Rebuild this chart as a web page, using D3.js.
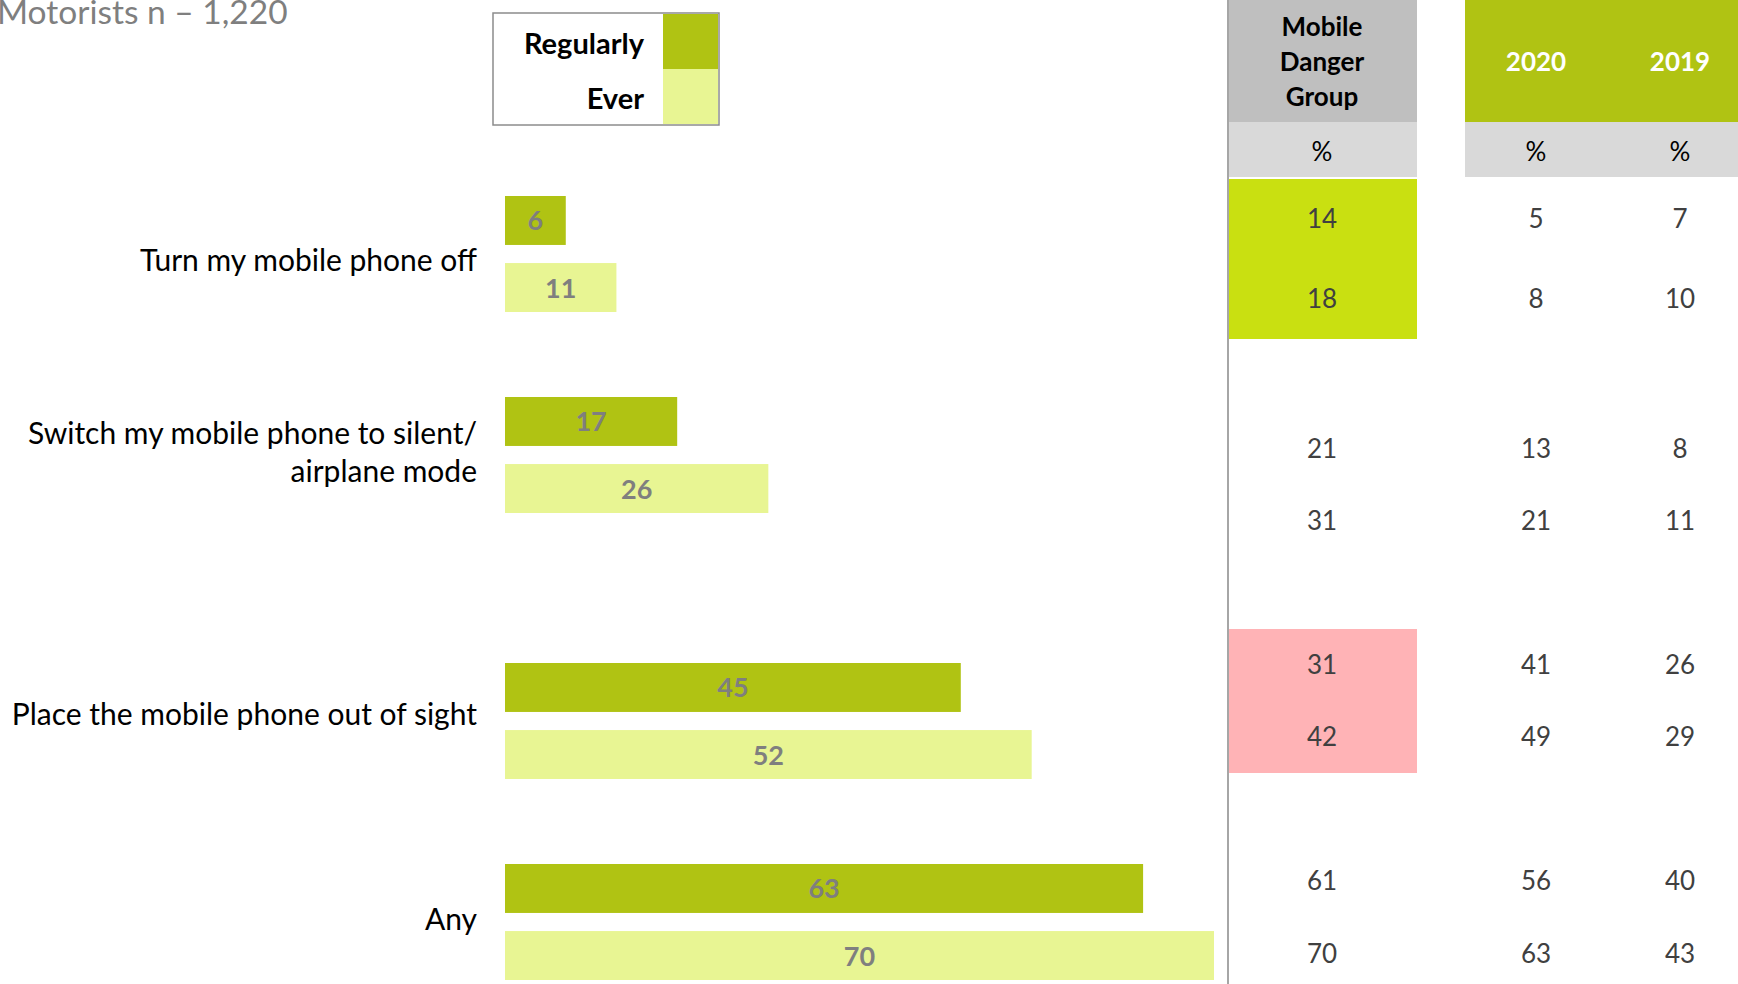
<!DOCTYPE html>
<html><head><meta charset="utf-8">
<script src="https://cdn.jsdelivr.net/npm/d3@7"></script>
<style>
html,body{margin:0;padding:0;background:#fff;overflow:hidden}
svg{display:block}
text{font-family:Lato,"Open Sans",sans-serif}
</style></head>
<body>
<svg id="chart" width="1738" height="984"></svg>
<script>
// ---- data ----
const categories = ["Turn my mobile phone off", "Switch my mobile phone to silent/\nairplane mode", "Place the mobile phone out of sight", "Any"];
const series = ["Regularly", "Ever"];
const regularly = [6, 17, 45, 63];
const ever = [11, 26, 52, 70];
const mdgRegularly = [14, 21, 31, 61];
const mdgEver = [18, 31, 42, 70];
const y2020Regularly = [5, 13, 41, 56];
const y2020Ever = [8, 21, 49, 63];
const y2019Regularly = [7, 8, 26, 40];
const y2019Ever = [10, 11, 29, 43];
const mdgHighlight = ["green", "none", "red", "none"];
const tableColumns = ["Mobile\nDanger\nGroup", "2020", "2019"];
const title = "Motorists n \u2013 1,220";

// ---- layout ----
const svg = d3.select("#chart");
const colors = {Regularly: "#b0c313", Ever: "#e8f593"};
const x = d3.scaleLinear().domain([0, 70]).range([505, 1214]);
const groupY = d3.scaleOrdinal().domain(categories).range([254, 455, 721, 922]);
const inner = d3.scaleBand().domain(series).range([-58, 58]).paddingInner(0.27);
const labelY = d3.scaleOrdinal().domain(categories).range([260, 452, 714, 919]);
const tableY = d3.scaleOrdinal().domain(categories).range([259, 485, 701, 917]);
const rowStep = d3.scaleOrdinal().domain(categories).range([80, 72, 72, 73]);
const colX = d3.scaleOrdinal().domain(tableColumns).range([1322, 1536, 1680]);

// title
svg.append("text").attr("x", -3).attr("y", 24).attr("font-size", 33.5).attr("fill", "#7f7f7f").text(title);

// legend
const lg = svg.append("g");
lg.append("rect").attr("x", 493).attr("y", 13).attr("width", 226).attr("height", 112)
  .attr("fill", "#fff").attr("stroke", "#8c8c8c").attr("stroke-width", 1.5);
const legY = d3.scaleBand().domain(series).range([14, 124]);
series.forEach(s => {
  lg.append("rect").attr("x", 663).attr("y", legY(s)).attr("width", 55).attr("height", legY.bandwidth()).attr("fill", colors[s]);
  lg.append("text").attr("x", 644).attr("y", legY(s) + legY.bandwidth() / 2 + 2).attr("dy", "0.35em")
    .attr("text-anchor", "end").attr("font-size", 29).attr("font-weight", 700).attr("fill", "#000").text(s);
});

// bars
const barData = [];
categories.forEach((c, i) => {
  barData.push({c, s: "Regularly", v: regularly[i]});
  barData.push({c, s: "Ever", v: ever[i]});
});
svg.append("g").selectAll("rect").data(barData).join("rect")
  .attr("x", x(0)).attr("y", d => groupY(d.c) + inner(d.s))
  .attr("width", d => x(d.v) - x(0)).attr("height", inner.bandwidth())
  .attr("fill", d => colors[d.s]);
svg.append("g").selectAll("text").data(barData).join("text")
  .attr("x", d => (x(0) + x(d.v)) / 2).attr("y", d => groupY(d.c) + inner(d.s) + inner.bandwidth() / 2)
  .attr("dy", "0.37em").attr("text-anchor", "middle").attr("font-size", 27).attr("font-weight", 700)
  .attr("fill", "#7f7f7f").text(d => d.v);

// category labels
const catG = svg.append("g");
categories.forEach(c => {
  const lines = c.split("\n");
  const lh = 38;
  const t = catG.append("text").attr("text-anchor", "end").attr("font-size", 30).attr("fill", "#000");
  lines.forEach((ln, k) => {
    t.append("tspan").attr("x", 477)
      .attr("y", labelY(c) + (k - (lines.length - 1) / 2) * lh)
      .attr("dy", "0.35em").text(ln);
  });
});

// divider line
svg.append("line").attr("x1", 1228).attr("x2", 1228).attr("y1", 0).attr("y2", 984)
  .attr("stroke", "#a6a6a6").attr("stroke-width", 2);

// table headers
const hdr = svg.append("g");
hdr.append("rect").attr("x", 1229).attr("y", 0).attr("width", 188).attr("height", 122).attr("fill", "#bfbfbf");
hdr.append("rect").attr("x", 1229).attr("y", 122).attr("width", 188).attr("height", 55).attr("fill", "#d9d9d9");
hdr.append("rect").attr("x", 1465).attr("y", 0).attr("width", 273).attr("height", 122).attr("fill", "#b0c313");
hdr.append("rect").attr("x", 1465).attr("y", 122).attr("width", 273).attr("height", 55).attr("fill", "#d9d9d9");
tableColumns.forEach((col, ci) => {
  const lines = col.split("\n");
  const t = hdr.append("text").attr("text-anchor", "middle").attr("font-size", 26).attr("font-weight", 700)
    .attr("fill", ci === 0 ? "#000" : "#fff");
  lines.forEach((ln, k) => {
    t.append("tspan").attr("x", colX(col)).attr("y", 62 + (k - (lines.length - 1) / 2) * 35).attr("dy", "0.35em").text(ln);
  });
  hdr.append("text").attr("x", colX(col)).attr("y", 152).attr("dy", "0.35em").attr("text-anchor", "middle")
    .attr("font-size", 26).attr("fill", "#000").text("%");
});

// highlight cells
const hlColors = {green: "#c9e011", red: "#ffb3b6"};
const rowOff = (c, s) => (s === "Regularly" ? -0.5 : 0.5) * rowStep(c);
svg.append("g").selectAll("rect").data(categories.filter((c, i) => mdgHighlight[i] !== "none")).join("rect")
  .attr("x", 1229).attr("width", 188)
  .attr("y", c => tableY(c) - rowStep(c))
  .attr("height", c => 2 * rowStep(c))
  .attr("fill", c => hlColors[mdgHighlight[categories.indexOf(c)]]);

// table values
const tableData = [];
categories.forEach((c, i) => {
  [[mdgRegularly, mdgEver], [y2020Regularly, y2020Ever], [y2019Regularly, y2019Ever]].forEach((pair, ci) => {
    tableData.push({c, s: "Regularly", col: tableColumns[ci], v: pair[0][i]});
    tableData.push({c, s: "Ever", col: tableColumns[ci], v: pair[1][i]});
  });
});
svg.append("g").selectAll("text").data(tableData).join("text")
  .attr("x", d => colX(d.col)).attr("y", d => tableY(d.c) + rowOff(d.c, d.s))
  .attr("dy", "0.35em").attr("text-anchor", "middle").attr("font-size", 26).attr("fill", "#404040").text(d => d.v);
</script>
</body></html>
